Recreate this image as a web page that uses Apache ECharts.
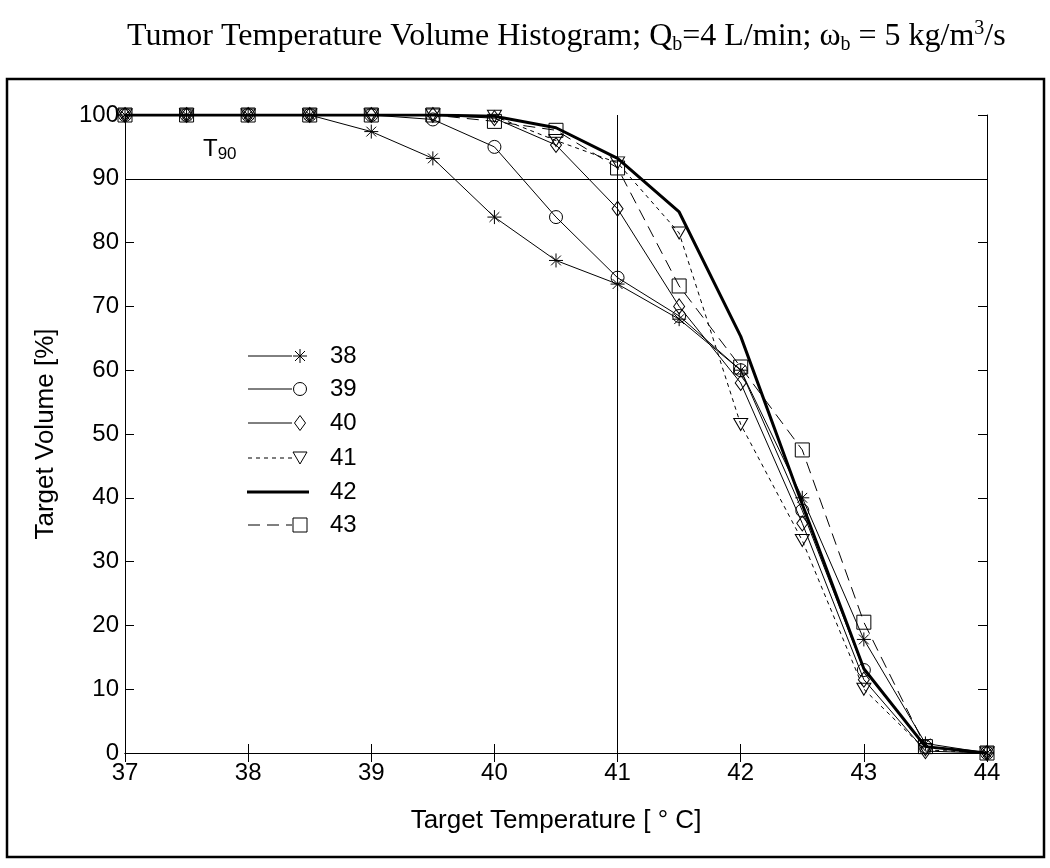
<!DOCTYPE html>
<html>
<head>
<meta charset="utf-8">
<script src="https://cdn.jsdelivr.net/npm/echarts@6/dist/echarts.min.js"></script>
<style>html,body{margin:0;padding:0;background:#fff}#c{width:1050px;height:868px}</style>
</head>
<body>
<div id="c"></div>
<script>
// ---- data ----
var temps = [37, 37.5, 38, 38.5, 39, 39.5, 40, 40.5, 41, 41.5, 42, 42.5, 43, 43.5, 44];
var s38 = [100, 100, 100, 100, 97.4, 93.2, 84, 77.2, 73.5, 68, 60, 40, 17.8, 1.5, 0];
var s39 = [100, 100, 100, 100, 100, 99.3, 95, 84, 74.5, 68.5, 60, 38, 13, 1, 0];
var s40 = [100, 100, 100, 100, 100, 100, 99.5, 95.3, 85.3, 70, 58, 36, 11.5, 0.3, 0];
var s41 = [100, 100, 100, 100, 100, 100, 99.8, 96, 92.5, 81.5, 51.5, 33.3, 10, 0.5, 0];
var s42 = [100, 100, 100, 100, 100, 100, 99.8, 98, 93.2, 84.8, 65.3, 39, 13.2, 1, 0];
var s43 = [100, 100, 100, 100, 100, 100, 99, 97.6, 91.7, 73.2, 60.5, 47.5, 20.5, 1, 0];
var seriesNames = ['38', '39', '40', '41', '42', '43'];
var xTicks = [37, 38, 39, 40, 41, 42, 43, 44];
var yTicks = [0, 10, 20, 30, 40, 50, 60, 70, 80, 90, 100];
var t90Level = 90;
var t90Temp = 41;

function pairs(vals) { return temps.map(function (t, i) { return [t, vals[i]]; }); }

var STAR = 'path://M0,-10L0,10M-10,0L10,0M-7,-7L7,7M-7,7L7,-7';
var styles = [
  { data: s38, symbol: STAR, size: 14, rotate: 0, lw: 1, type: 'solid' },
  { data: s39, symbol: 'circle', size: 13, rotate: 0, lw: 1, type: 'solid' },
  { data: s40, symbol: 'diamond', size: [11, 15], rotate: 0, lw: 1, type: 'solid' },
  { data: s41, symbol: 'triangle', size: [14, 12], rotate: 180, lw: 1, type: [4, 4] },
  { data: s42, symbol: 'none', size: 0, rotate: 0, lw: 3, type: 'solid' },
  { data: s43, symbol: 'rect', size: 14, rotate: 0, lw: 1, type: [12, 7] }
];

var series = styles.map(function (st, k) {
  return {
    name: seriesNames[k], type: 'line', xAxisIndex: 0, yAxisIndex: 0,
    data: pairs(st.data),
    symbol: st.symbol, symbolSize: st.size, symbolRotate: st.rotate,
    showSymbol: st.symbol !== 'none',
    lineStyle: { color: '#000', width: st.lw, type: st.type },
    itemStyle: { color: 'transparent', borderColor: '#000', borderWidth: 1 },
    emphasis: { disabled: true }, silent: true, z: 3
  };
});
series[0].markLine = {
  silent: true, symbol: ['none', 'none'], label: { show: false },
  lineStyle: { color: '#000', width: 1, type: 'solid' },
  data: [{ yAxis: t90Level }, { xAxis: t90Temp }]
};

// ---- legend (drawn) ----
var legendY = [356, 389, 423, 458, 492, 525];
var graphics = [];
graphics.push({ type: 'rect', shape: { x: 7, y: 79, width: 1037, height: 778 },
  style: { fill: 'none', stroke: '#000', lineWidth: 2.5 }, z: 0 });
function markerGraphics(k, cx, cy) {
  var st = { fill: 'none', stroke: '#000', lineWidth: 1 };
  if (k === 0) {
    return [[0, -7, 0, 7], [-7, 0, 7, 0], [-5, -5, 5, 5], [-5, 5, 5, -5]].map(function (p) {
      return { type: 'line', shape: { x1: cx + p[0], y1: cy + p[1], x2: cx + p[2], y2: cy + p[3] }, style: st };
    });
  }
  if (k === 1) return [{ type: 'circle', shape: { cx: cx, cy: cy, r: 6.5 }, style: st }];
  if (k === 2) return [{ type: 'polygon', shape: { points: [[cx, cy - 7.5], [cx + 5.5, cy], [cx, cy + 7.5], [cx - 5.5, cy]] }, style: st }];
  if (k === 3) return [{ type: 'polygon', shape: { points: [[cx - 7, cy - 6], [cx + 7, cy - 6], [cx, cy + 6]] }, style: st }];
  if (k === 5) return [{ type: 'rect', shape: { x: cx - 7, y: cy - 7, width: 14, height: 14 }, style: st }];
  return [];
}
styles.forEach(function (st, k) {
  var y = legendY[k];
  var x1 = (k === 4) ? 247 : 248, x2 = (k === 4) ? 309 : 292;
  graphics.push({ type: 'line', shape: { x1: x1, y1: y, x2: x2, y2: y },
    style: { stroke: '#000', lineWidth: st.lw, lineDash: Array.isArray(st.type) ? st.type : null }, z: 5 });
  markerGraphics(k, 300, y).forEach(function (m) { m.z = 5; graphics.push(m); });
  graphics.push({ type: 'text', x: 330, y: y, style: { text: seriesNames[k], font: '24px "Liberation Sans", Arial, sans-serif', fill: '#000', textVerticalAlign: 'middle' }, z: 5 });
});
// T90 annotation
graphics.push({ type: 'text', x: 203, y: 150, style: {
  rich: { t: { fontSize: 24, fontFamily: '"Liberation Sans", Arial', lineHeight: 26, verticalAlign: 'top', fill: '#000' },
          s: { fontSize: 17, fontFamily: '"Liberation Sans", Arial', lineHeight: 16, verticalAlign: 'bottom', fill: '#000' } },
  text: '{t|T}{s|90}', textVerticalAlign: 'middle' }, z: 5 });

var chart = echarts.init(document.getElementById('c'));
var tickFont = { color: '#000', fontSize: 24, fontFamily: '"Liberation Sans", Arial, sans-serif' };
var nameFont = { color: '#000', fontSize: 26, fontFamily: '"Liberation Sans", Arial, sans-serif' };
var serif = '"Liberation Serif", "Times New Roman", serif';
chart.setOption({
  animation: false,
  backgroundColor: '#fff',
  title: {
    left: 122, top: 14,
    text: '{n|Tumor Temperature Volume Histogram; Q}{sub|b}{n|=4 L/min; ω}{sub|b}{n| = 5 kg/m}{sup|3}{n|/s}',
    textStyle: {
      fontWeight: 'normal',
      rich: {
        n: { fontFamily: serif, fontWeight: 'normal', fontSize: 32, color: '#000', lineHeight: 36 },
        sub: { fontFamily: serif, fontWeight: 'normal', fontSize: 20, color: '#000', lineHeight: 19, verticalAlign: 'bottom' },
        sup: { fontFamily: serif, fontWeight: 'normal', fontSize: 20, color: '#000', lineHeight: 19, verticalAlign: 'top' }
      }
    }
  },
  grid: { left: 125, top: 115, width: 862, height: 638, containLabel: false },
  xAxis: [
    { type: 'value', min: xTicks[0], max: xTicks[xTicks.length - 1], interval: 1, position: 'bottom',
      name: 'Target Temperature [ ° C]', nameLocation: 'middle', nameGap: 55,
      nameTextStyle: nameFont,
      axisLine: { lineStyle: { color: '#000', width: 1 } },
      axisTick: { inside: true, length: 9, lineStyle: { color: '#000' } },
      axisLabel: Object.assign({ margin: 8 }, tickFont),
      splitLine: { show: false } },
    { type: 'value', min: xTicks[0], max: xTicks[xTicks.length - 1], interval: 1, position: 'top',
      axisLine: { lineStyle: { color: '#000', width: 1 } },
      axisTick: { inside: true, length: 9, lineStyle: { color: '#000' } },
      axisLabel: { show: false }, splitLine: { show: false } }
  ],
  yAxis: [
    { type: 'value', min: yTicks[0], max: yTicks[yTicks.length - 1], interval: 10, position: 'left',
      name: 'Target Volume [%]', nameLocation: 'middle', nameGap: 66, nameRotate: 90,
      nameTextStyle: nameFont,
      axisLine: { show: true, lineStyle: { color: '#000', width: 1 } },
      axisTick: { show: true, inside: true, length: 9, lineStyle: { color: '#000' } },
      axisLabel: Object.assign({ margin: 6 }, tickFont),
      splitLine: { show: false } },
    { type: 'value', min: yTicks[0], max: yTicks[yTicks.length - 1], interval: 10, position: 'right',
      axisLine: { show: true, lineStyle: { color: '#000', width: 1 } },
      axisTick: { show: true, inside: true, length: 9, lineStyle: { color: '#000' } },
      axisLabel: { show: false }, splitLine: { show: false } }
  ],
  graphic: graphics,
  series: series
});
</script>
</body>
</html>
